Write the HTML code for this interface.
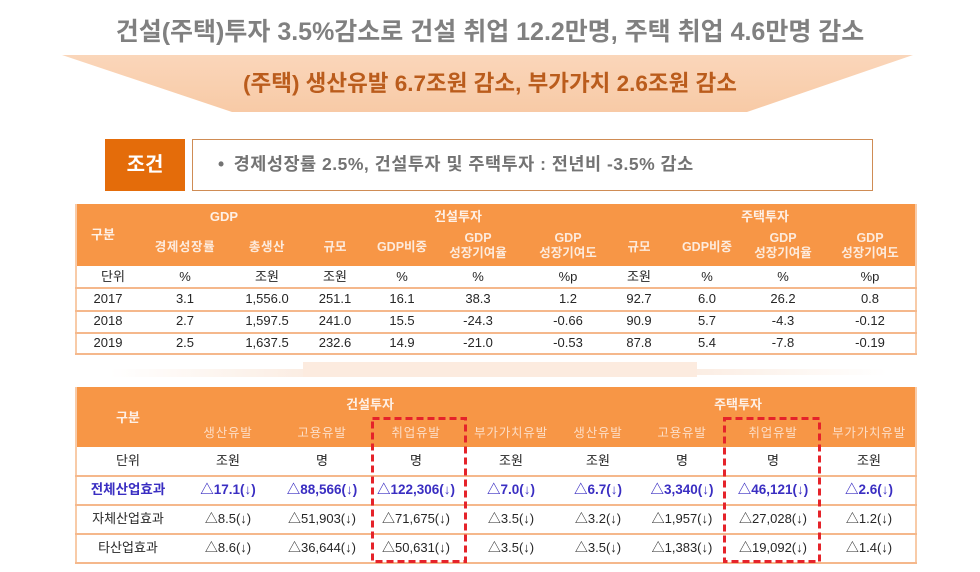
<!DOCTYPE html>
<html><head><meta charset="utf-8">
<style>
*{margin:0;padding:0;box-sizing:border-box}
html,body{width:980px;height:572px;background:#fff;overflow:hidden}
body{position:relative;font-family:"Liberation Sans","Noto Sans CJK KR",sans-serif;color:#262626}
.a{position:absolute}
.c{position:absolute;width:140px;margin-left:-70px;text-align:center;line-height:16px;margin-top:-8px;white-space:nowrap}
.c2{position:absolute;width:140px;margin-left:-70px;text-align:center;line-height:15px;margin-top:-15px;white-space:nowrap}
.h1{color:#FDEBDD;font-weight:bold;font-size:12.5px}
.h1b{color:#FEF0E6;font-weight:bold;font-size:13px}
.b1{font-size:13px;color:#262626}
.h2{color:#FCDDC6;font-size:12.5px;letter-spacing:0.8px}
.b2{font-size:13px;color:#262626}
.bb{font-size:13.5px;color:#3A2EC2;font-weight:bold}
.ln{position:absolute;height:2px;background:#F5B88C}
</style></head><body>

<!-- title -->
<div class="a" style="left:0;top:16px;width:980px;text-align:center;font-size:25px;font-weight:bold;color:#808080;line-height:32px;white-space:nowrap">건설(주택)투자 3.5%감소로 건설 취업 12.2만명, 주택 취업 4.6만명 감소</div>

<!-- funnel -->
<svg class="a" style="left:0;top:0" width="980" height="130">
<defs><linearGradient id="g" x1="0" y1="0" x2="0" y2="1"><stop offset="0" stop-color="#FAD6BA"/><stop offset="1" stop-color="#F8CAA6"/></linearGradient></defs>
<polygon points="62,55 913,55 747,112 232,112" fill="url(#g)"/>
</svg>
<div class="a" style="left:0;top:69px;width:980px;text-align:center;font-size:22.5px;font-weight:bold;color:#BA5C1C;line-height:30px;white-space:nowrap">(주택) 생산유발 6.7조원 감소, 부가가치 2.6조원 감소</div>

<!-- condition -->
<div class="a" style="left:105px;top:139px;width:80px;height:52px;background:#E46C0A;color:#fff;font-weight:bold;font-size:20px;line-height:52px;text-align:center">조건</div>
<div class="a" style="left:192px;top:139px;width:681px;height:52px;border:1.5px solid #CF8C55;background:#fff"></div>
<div class="a" style="left:218px;top:152px;font-size:17.5px;font-weight:bold;color:#737373;line-height:24px;white-space:nowrap;letter-spacing:0.5px"><span style="margin-right:9px">•</span>경제성장률 2.5%, 건설투자 및 주택투자 : 전년비 -3.5% 감소</div>

<!-- TABLE 1 -->
<div class="a" style="left:75px;top:204px;width:842px;height:62px;background:#F79646"></div>
<div class="a" style="left:75px;top:204px;width:842px;height:151px;border:2px solid #F8CBA8;border-top:none"></div>
<div class="ln" style="left:75px;top:287px;width:842px"></div>
<div class="ln" style="left:75px;top:310px;width:842px"></div>
<div class="ln" style="left:75px;top:332px;width:842px"></div>
<div class="ln" style="left:75px;top:353px;width:842px"></div>

<div class="c h1b" style="left:103px;top:235px">구분</div>
<div class="c h1b" style="left:224px;top:217px">GDP</div>
<div class="c h1b" style="left:458px;top:217px">건설투자</div>
<div class="c h1b" style="left:765px;top:217px">주택투자</div>

<div class="c h1" style="left:185px;top:247px;letter-spacing:0.6px">경제성장률</div>
<div class="c h1" style="left:267px;top:247px;letter-spacing:0.6px">총생산</div>
<div class="c h1" style="left:335px;top:247px">규모</div>
<div class="c h1" style="left:402px;top:247px">GDP비중</div>
<div class="c2 h1" style="left:478px;top:246px">GDP<br>성장기여율</div>
<div class="c2 h1" style="left:568px;top:246px">GDP<br>성장기여도</div>
<div class="c h1" style="left:639px;top:247px">규모</div>
<div class="c h1" style="left:707px;top:247px">GDP비중</div>
<div class="c2 h1" style="left:783px;top:246px">GDP<br>성장기여율</div>
<div class="c2 h1" style="left:870px;top:246px">GDP<br>성장기여도</div>

<!-- unit row -->
<div class="c b1" style="left:113px;top:277px">단위</div>
<div class="c b1" style="left:185px;top:277px">%</div>
<div class="c b1" style="left:267px;top:277px">조원</div>
<div class="c b1" style="left:335px;top:277px">조원</div>
<div class="c b1" style="left:402px;top:277px">%</div>
<div class="c b1" style="left:478px;top:277px">%</div>
<div class="c b1" style="left:568px;top:277px">%p</div>
<div class="c b1" style="left:639px;top:277px">조원</div>
<div class="c b1" style="left:707px;top:277px">%</div>
<div class="c b1" style="left:783px;top:277px">%</div>
<div class="c b1" style="left:870px;top:277px">%p</div>

<div class="c b1" style="left:108px;top:299px">2017</div>
<div class="c b1" style="left:185px;top:299px">3.1</div>
<div class="c b1" style="left:267px;top:299px">1,556.0</div>
<div class="c b1" style="left:335px;top:299px">251.1</div>
<div class="c b1" style="left:402px;top:299px">16.1</div>
<div class="c b1" style="left:478px;top:299px">38.3</div>
<div class="c b1" style="left:568px;top:299px">1.2</div>
<div class="c b1" style="left:639px;top:299px">92.7</div>
<div class="c b1" style="left:707px;top:299px">6.0</div>
<div class="c b1" style="left:783px;top:299px">26.2</div>
<div class="c b1" style="left:870px;top:299px">0.8</div>

<div class="c b1" style="left:108px;top:321px">2018</div>
<div class="c b1" style="left:185px;top:321px">2.7</div>
<div class="c b1" style="left:267px;top:321px">1,597.5</div>
<div class="c b1" style="left:335px;top:321px">241.0</div>
<div class="c b1" style="left:402px;top:321px">15.5</div>
<div class="c b1" style="left:478px;top:321px">-24.3</div>
<div class="c b1" style="left:568px;top:321px">-0.66</div>
<div class="c b1" style="left:639px;top:321px">90.9</div>
<div class="c b1" style="left:707px;top:321px">5.7</div>
<div class="c b1" style="left:783px;top:321px">-4.3</div>
<div class="c b1" style="left:870px;top:321px">-0.12</div>

<div class="c b1" style="left:108px;top:343px">2019</div>
<div class="c b1" style="left:185px;top:343px">2.5</div>
<div class="c b1" style="left:267px;top:343px">1,637.5</div>
<div class="c b1" style="left:335px;top:343px">232.6</div>
<div class="c b1" style="left:402px;top:343px">14.9</div>
<div class="c b1" style="left:478px;top:343px">-21.0</div>
<div class="c b1" style="left:568px;top:343px">-0.53</div>
<div class="c b1" style="left:639px;top:343px">87.8</div>
<div class="c b1" style="left:707px;top:343px">5.4</div>
<div class="c b1" style="left:783px;top:343px">-7.8</div>
<div class="c b1" style="left:870px;top:343px">-0.19</div>

<!-- faint band between tables -->
<div class="a" style="left:110px;top:369px;width:193px;height:8px;background:linear-gradient(to right,rgba(250,235,225,0),#FBEDE3)"></div>
<div class="a" style="left:303px;top:362px;width:394px;height:15px;background:#FCEBDF"></div>
<div class="a" style="left:697px;top:369px;width:190px;height:6px;background:linear-gradient(to right,#FBEDE3,rgba(250,235,225,0))"></div>

<!-- TABLE 2 -->
<div class="a" style="left:75px;top:387px;width:842px;height:60px;background:#F79646"></div>
<div class="a" style="left:75px;top:387px;width:842px;height:177px;border:2px solid #F8CBA8;border-top:none"></div>
<div class="ln" style="left:75px;top:475px;width:842px"></div>
<div class="ln" style="left:75px;top:504px;width:842px"></div>
<div class="ln" style="left:75px;top:533px;width:842px"></div>
<div class="ln" style="left:75px;top:562px;width:842px"></div>

<div class="c h1b" style="left:128px;top:418px">구분</div>
<div class="c h1b" style="left:370px;top:405px">건설투자</div>
<div class="c h1b" style="left:738px;top:405px">주택투자</div>

<div class="c h2" style="left:228px;top:433px">생산유발</div>
<div class="c h2" style="left:322px;top:433px">고용유발</div>
<div class="c h2" style="left:416px;top:433px">취업유발</div>
<div class="c h2" style="left:511px;top:433px">부가가치유발</div>
<div class="c h2" style="left:598px;top:433px">생산유발</div>
<div class="c h2" style="left:682px;top:433px">고용유발</div>
<div class="c h2" style="left:773px;top:433px">취업유발</div>
<div class="c h2" style="left:869px;top:433px">부가가치유발</div>

<div class="c b2" style="left:128px;top:461px">단위</div>
<div class="c b2" style="left:228px;top:461px">조원</div>
<div class="c b2" style="left:322px;top:461px">명</div>
<div class="c b2" style="left:416px;top:461px">명</div>
<div class="c b2" style="left:511px;top:461px">조원</div>
<div class="c b2" style="left:598px;top:461px">조원</div>
<div class="c b2" style="left:682px;top:461px">명</div>
<div class="c b2" style="left:773px;top:461px">명</div>
<div class="c b2" style="left:869px;top:461px">조원</div>

<div class="c bb" style="left:128px;top:490px">전체산업효과</div>
<div class="c bb" style="left:228px;top:490px">△17.1(↓)</div>
<div class="c bb" style="left:322px;top:490px">△88,566(↓)</div>
<div class="c bb" style="left:416px;top:490px">△122,306(↓)</div>
<div class="c bb" style="left:511px;top:490px">△7.0(↓)</div>
<div class="c bb" style="left:598px;top:490px">△6.7(↓)</div>
<div class="c bb" style="left:682px;top:490px">△3,340(↓)</div>
<div class="c bb" style="left:773px;top:490px">△46,121(↓)</div>
<div class="c bb" style="left:869px;top:490px">△2.6(↓)</div>

<div class="c b2" style="left:128px;top:519px">자체산업효과</div>
<div class="c b2" style="left:228px;top:519px">△8.5(↓)</div>
<div class="c b2" style="left:322px;top:519px">△51,903(↓)</div>
<div class="c b2" style="left:416px;top:519px">△71,675(↓)</div>
<div class="c b2" style="left:511px;top:519px">△3.5(↓)</div>
<div class="c b2" style="left:598px;top:519px">△3.2(↓)</div>
<div class="c b2" style="left:682px;top:519px">△1,957(↓)</div>
<div class="c b2" style="left:773px;top:519px">△27,028(↓)</div>
<div class="c b2" style="left:869px;top:519px">△1.2(↓)</div>

<div class="c b2" style="left:128px;top:548px">타산업효과</div>
<div class="c b2" style="left:228px;top:548px">△8.6(↓)</div>
<div class="c b2" style="left:322px;top:548px">△36,644(↓)</div>
<div class="c b2" style="left:416px;top:548px">△50,631(↓)</div>
<div class="c b2" style="left:511px;top:548px">△3.5(↓)</div>
<div class="c b2" style="left:598px;top:548px">△3.5(↓)</div>
<div class="c b2" style="left:682px;top:548px">△1,383(↓)</div>
<div class="c b2" style="left:773px;top:548px">△19,092(↓)</div>
<div class="c b2" style="left:869px;top:548px">△1.4(↓)</div>

<!-- dashed highlight boxes -->
<svg class="a" style="left:0;top:0" width="980" height="572">
<rect x="372.5" y="418.5" width="93" height="143" fill="none" stroke="#E5232A" stroke-width="3" stroke-dasharray="7 4"/>
<rect x="724.5" y="418.5" width="95" height="143" fill="none" stroke="#E5232A" stroke-width="3" stroke-dasharray="7 4"/>
</svg>

</body></html>
